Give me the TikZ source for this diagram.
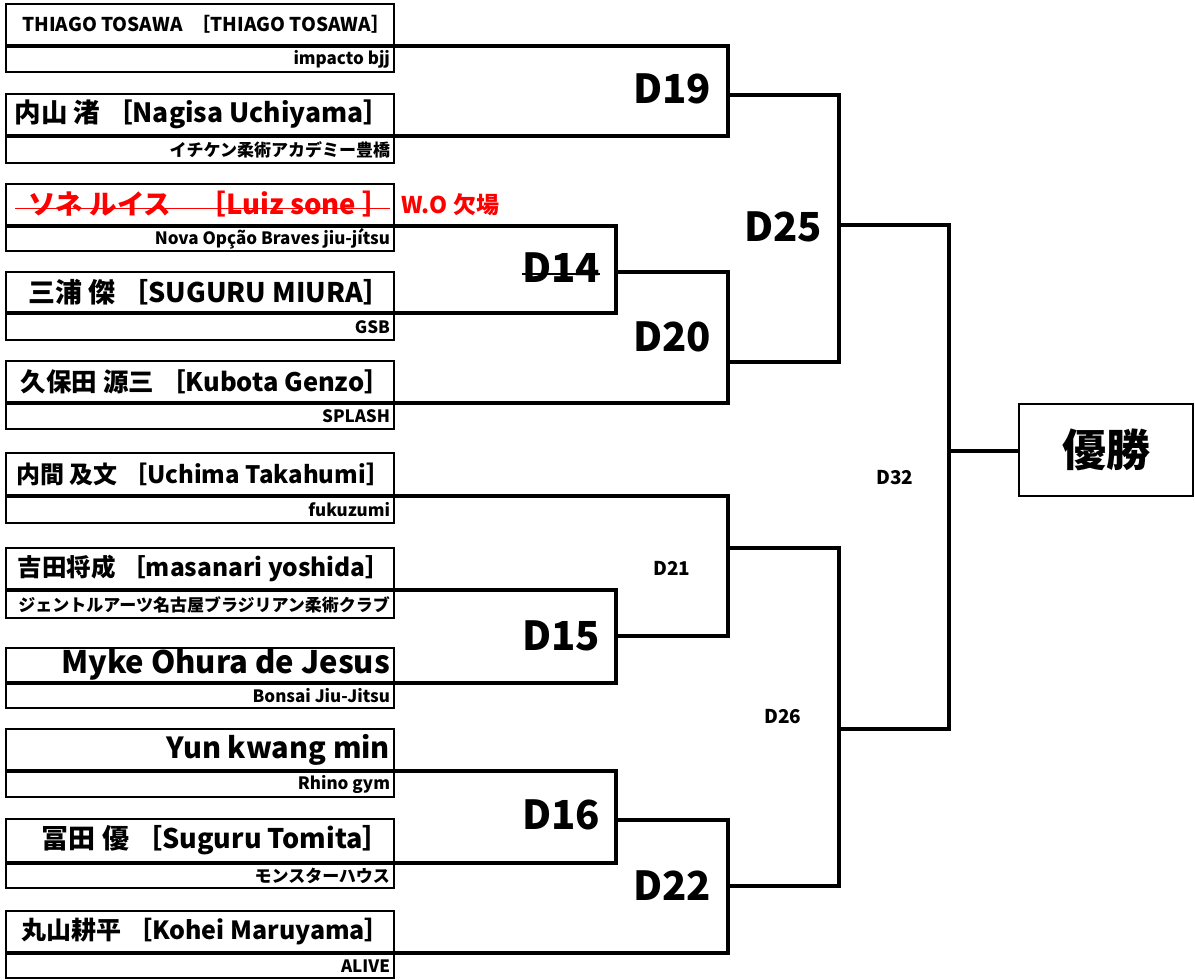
\documentclass[tikz,border=0pt]{standalone}
\usepackage{fontspec}
\setmainfont{Noto Sans CJK JP}
\usetikzlibrary{positioning}
\newcommand\fs[1]{\fontsize{#1}{#1}\selectfont}
\newcommand\rcell[1]{\hbox to 380pt{\hss#1}}
\tikzset{
  namecell/.style={draw,line width=2pt,anchor=south west,inner xsep=4pt,inner ysep=0pt,font=\bfseries},
  clubcell/.style={namecell,anchor=north west,font=\bfseries\fs{17}},
  match/.style={inner sep=0pt,font=\bfseries\fs{40}},
  minor/.style={inner sep=0pt,font=\bfseries\fs{19}},
  bracket/.style={line width=3.3pt}
}
\begin{document}
\begin{tikzpicture}[x=1pt,y=-1pt]
\useasboundingbox (0,0) rectangle (1195,980);
% entrants: number/top/divider/bottom/name/club
\foreach \i/\t/\d/\b/\nm/\cl in {
 1/5/46/71/{\fs{19}THIAGO TOSAWA\ \ ［THIAGO TOSAWA］}/impacto bjj,
 2/95/136/162/{\fs{26.5}内山 渚 ［Nagisa Uchiyama］}/イチケン柔術アカデミー豊橋,
 3/185/226/250/{\fs{27.5}\color{red}ソネ ルイス　［Luiz sone ］}/Nova Opção Braves jiu-jítsu,
 4/273/313/339/{\fs{27}三浦 傑 ［SUGURU MIURA］}/GSB,
 5/362/403/428/{\fs{25.5}久保田 源三 ［Kubota Genzo］}/SPLASH,
 6/454/496/522/{\fs{24}内間 及文 ［Uchima Takahumi］}/fukuzumi,
 7/549/590/617/{\fs{24.5}吉田将成 ［masanari yoshida］}/ジェントルアーツ名古屋ブラジリアン柔術クラブ,
 8/649/683/707/{\fs{31}Myke Ohura de Jesus}/Bonsai Jiu-Jitsu,
 9/730/771/796/{\fs{29}Yun kwang min}/Rhino gym,
 10/820/863/887/{\fs{27}冨田 優 ［Suguru Tomita］}/モンスターハウス,
 11/912/953/977/{\fs{25}丸山耕平 ［Kohei Maruyama］}/ALIVE}{
\node[namecell,minimum height={(\d-\t)*1pt}] (n\i) at (5,\d) {\rcell{\nm}};
\node[clubcell,minimum height={(\b-\d)*1pt}] (c\i) at (5,\d) {\rcell{\cl}};}
\draw[red,line width=1.3pt] ([xshift=10pt,yshift=-4pt]n3.west) -- ([xshift=-5pt,yshift=-4pt]n3.east);
\node[right=6pt of n3,inner sep=0pt,text=red,font=\bfseries\fs{23}] (wo) {W.O 欠場};
% match points
\coordinate (j19) at (728,95);  \coordinate (j14) at (616,272);
\coordinate (j20) at (728,362); \coordinate (j25) at (839,225);
\coordinate (j21) at (728,548); \coordinate (j15) at (616,636);
\coordinate (j16) at (616,820); \coordinate (j22) at (728,886);
\coordinate (j26) at (839,729); \coordinate (j32) at (949,451);
\draw[bracket] (n1.south east) -| (j19) |- (n2.south east);
\draw[bracket] (n3.south east) -| (j14) |- (n4.south east);
\draw[bracket] (j14) -| (j20) |- (n5.south east);
\draw[bracket] (j19) -| (j25) |- (j20);
\draw[bracket] (n6.south east) -| (j21) |- (j15);
\draw[bracket] (n7.south east) -| (j15) |- (n8.south east);
\draw[bracket] (n9.south east) -| (j16) |- (n10.south east);
\draw[bracket] (j16) -| (j22) |- (n11.south east);
\draw[bracket] (j21) -| (j26) |- (j22);
\draw[bracket] (j25) -| (j32) |- (j26);
\node[draw,line width=2.2pt,minimum width=174pt,minimum height=92pt,font=\bfseries\fs{44}] (win) at (1106,450) {優勝};
\draw[bracket] (j32) -- (j32 -| win.west);
% match labels
\node[match] (l19) at (672,89) {D19};
\node[match] (l25) at (783,227) {D25};
\node[match] (l14) at (561,268) {D14};
\draw[line width=1.5pt] ([yshift=-6pt]l14.west) -- ([yshift=-6pt]l14.east);
\node[match] (l20) at (672,337) {D20};
\node[minor] (l21) at (672,568) {D21};
\node[match] (l15) at (561,636) {D15};
\node[minor] (l26) at (783,717) {D26};
\node[match] (l16) at (561,815) {D16};
\node[match] (l22) at (672,886) {D22};
\node[minor] (l32) at (895,478) {D32};
\end{tikzpicture}
\end{document}
